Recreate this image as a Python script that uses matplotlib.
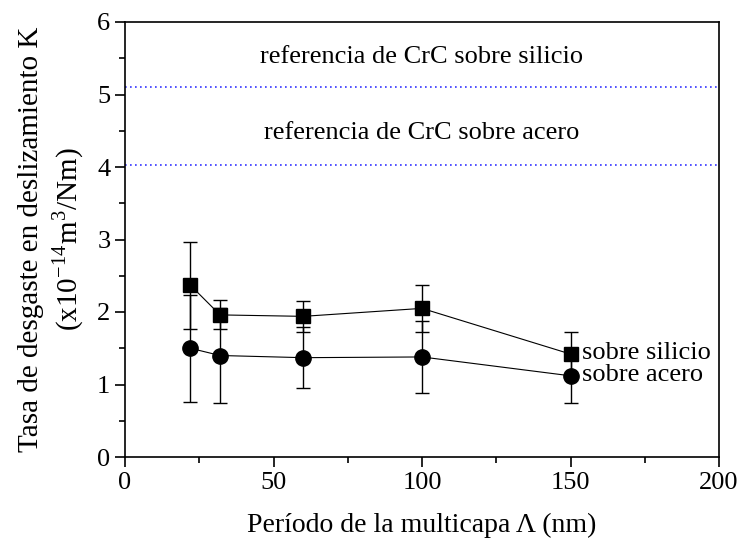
import matplotlib
matplotlib.use("Agg")
import matplotlib.pyplot as plt
from matplotlib.ticker import MultipleLocator

plt.rcParams["font.family"] = ["Liberation Serif", "DejaVu Serif"]
plt.rcParams["mathtext.fontset"] = "stix"

period = [22, 32, 60, 100, 150]
k_silicio = [2.37, 1.96, 1.94, 2.05, 1.42]
err_silicio = [0.60, 0.20, 0.21, 0.32, 0.30]
k_acero = [1.50, 1.40, 1.37, 1.38, 1.12]
err_acero = [0.74, 0.66, 0.42, 0.50, 0.37]

ref_silicio = 5.10
ref_acero = 4.03

fig = plt.figure(figsize=(7.38, 5.45), dpi=100)
ax = fig.add_axes([125 / 738, 88 / 545, 594 / 738, 435 / 545])

ax.axhline(ref_silicio, color="#3333ff", ls=(0, (1, 2)), lw=1.2)
ax.axhline(ref_acero, color="#3333ff", ls=(0, (1, 2)), lw=1.2)
ax.text(100, 5.52, "referencia de CrC sobre silicio", ha="center", va="center", fontsize=19)
ax.text(100, 4.47, "referencia de CrC sobre acero", ha="center", va="center", fontsize=19)

ax.errorbar(period, k_silicio, yerr=err_silicio, fmt="-s", color="black", lw=0.8,
            ms=10, capsize=5, elinewidth=1, capthick=1)
ax.errorbar(period, k_acero, yerr=err_acero, fmt="-o", color="black", lw=0.8,
            ms=11, capsize=5, elinewidth=1, capthick=1)

ax.text(period[-1] + 4, k_silicio[-1] + 0.02, "sobre silicio", ha="left", va="center", fontsize=19)
ax.text(period[-1] + 4, k_acero[-1] + 0.01, "sobre acero", ha="left", va="center", fontsize=19)

ax.set_xlim(0, 200)
ax.set_ylim(0, 6)
ax.xaxis.set_major_locator(MultipleLocator(50))
ax.xaxis.set_minor_locator(MultipleLocator(25))
ax.yaxis.set_major_locator(MultipleLocator(1))
ax.yaxis.set_minor_locator(MultipleLocator(0.5))
ax.tick_params(which="both", direction="out", width=1.2, labelsize=19)
ax.tick_params(which="major", length=7)
ax.tick_params(which="minor", length=4)
for s in ax.spines.values():
    s.set_linewidth(1.2)

ax.set_xlabel("Período de la multicapa Λ (nm)", fontsize=20, labelpad=14)
ax.set_ylabel("Tasa de desgaste en deslizamiento K\n"
              r"(x10$^{\mathregular{-14}}$m$^{\mathregular{3}}$/Nm)", fontsize=21, labelpad=8,
              linespacing=1.3)

fig.savefig("out.png", dpi=100)
